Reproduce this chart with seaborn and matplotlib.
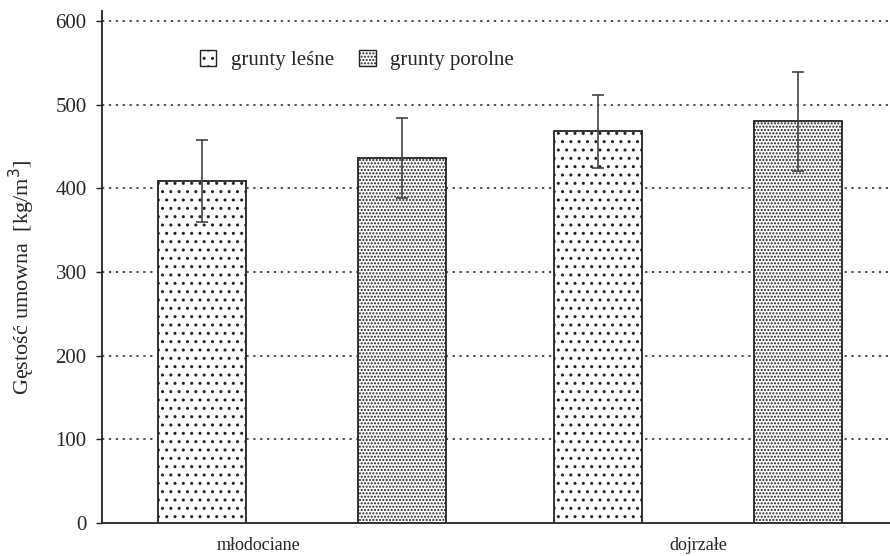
import matplotlib
matplotlib.use("Agg")
import matplotlib.pyplot as plt
import matplotlib.transforms as mtransforms
import pandas as pd
import seaborn as sns

# Wood density by stand age and former land use
age_groups = ["młodociane", "dojrzałe"]
soil_types = ["grunty leśne", "grunty porolne"]
density_forest = [409, 468]
density_farm = [436, 480]
sd_forest = [49, 44]
sd_farm = [48, 59]
y_ticks = [0, 100, 200, 300, 400, 500, 600]

df = pd.DataFrame({
    "wiek": age_groups * 2,
    "grunt": [soil_types[0]] * 2 + [soil_types[1]] * 2,
    "gestosc": density_forest + density_farm,
    "sd": sd_forest + sd_farm,
})

sns.set_theme(style="white")
plt.rcParams["font.family"] = ["Liberation Serif", "DejaVu Serif"]
plt.rcParams["hatch.color"] = "#8a8a8a"
plt.rcParams["hatch.linewidth"] = 1.0

fig = plt.figure(figsize=(8.9, 5.56), dpi=100)
ax = fig.add_axes([0.1146, 0.0594, 0.8854, 0.921])

sns.barplot(data=df, x="wiek", y="gestosc", hue="grunt", order=age_groups,
            hue_order=soil_types, width=1.01, gap=0.56, errorbar=None,
            palette=["white", "white"], edgecolor="#222222",
            linewidth=1.3, ax=ax, legend=False, zorder=3)

hatches = ["..", "....."]
handles = []
for cont, hatch, level in zip(ax.containers, hatches, soil_types):
    sub = df[df["grunt"] == level].set_index("wiek").loc[age_groups]
    xs = []
    for patch in cont:
        patch.set_hatch(hatch)
        xs.append(patch.get_x() + patch.get_width() / 2)
    ax.errorbar(xs, sub["gestosc"], yerr=sub["sd"], fmt="none",
                ecolor="#444444", elinewidth=1.2, capsize=4, capthick=1.2,
                zorder=4)
    handles.append(matplotlib.patches.Patch(facecolor="white", edgecolor="#222222",
                                            hatch=hatch, linewidth=1.0, label=level))

ax.set_ylim(0, 612)
ax.set_xlim(-0.505, 1.485)
ax.set_yticks(y_ticks)
ax.tick_params(axis="y", direction="out", length=4.5, width=1.0, color="#222222",
               labelsize=15, pad=6.5, left=True)
ax.tick_params(axis="x", length=0, labelsize=13, pad=10)
for t in y_ticks[1:]:
    ax.axhline(t, color="#222222", linestyle=(0, (1.5, 3)), linewidth=1.1, zorder=1)

# the first group's caption sits a little left of the group centre
first = ax.get_xticklabels()[0]
first.set_transform(first.get_transform() +
                    mtransforms.ScaledTranslation(-0.43, 0, fig.dpi_scale_trans))

for side in ["top", "right"]:
    ax.spines[side].set_visible(False)
for side in ["left", "bottom"]:
    ax.spines[side].set_color("#222222")
    ax.spines[side].set_linewidth(1.3)

ax.set_xlabel("")
ax.set_ylabel("Gęstość umowna  [kg/m$^3$]", fontsize=16)
ax.yaxis.set_label_coords(-0.083, 0.48)

leg = ax.legend(handles=handles, loc="upper left", bbox_to_anchor=(0.1, 0.96),
                ncol=2, frameon=False, fontsize=15, handlelength=0.8,
                handleheight=0.8, handletextpad=0.7, columnspacing=1.2)

fig.savefig("out.png", dpi=100)
